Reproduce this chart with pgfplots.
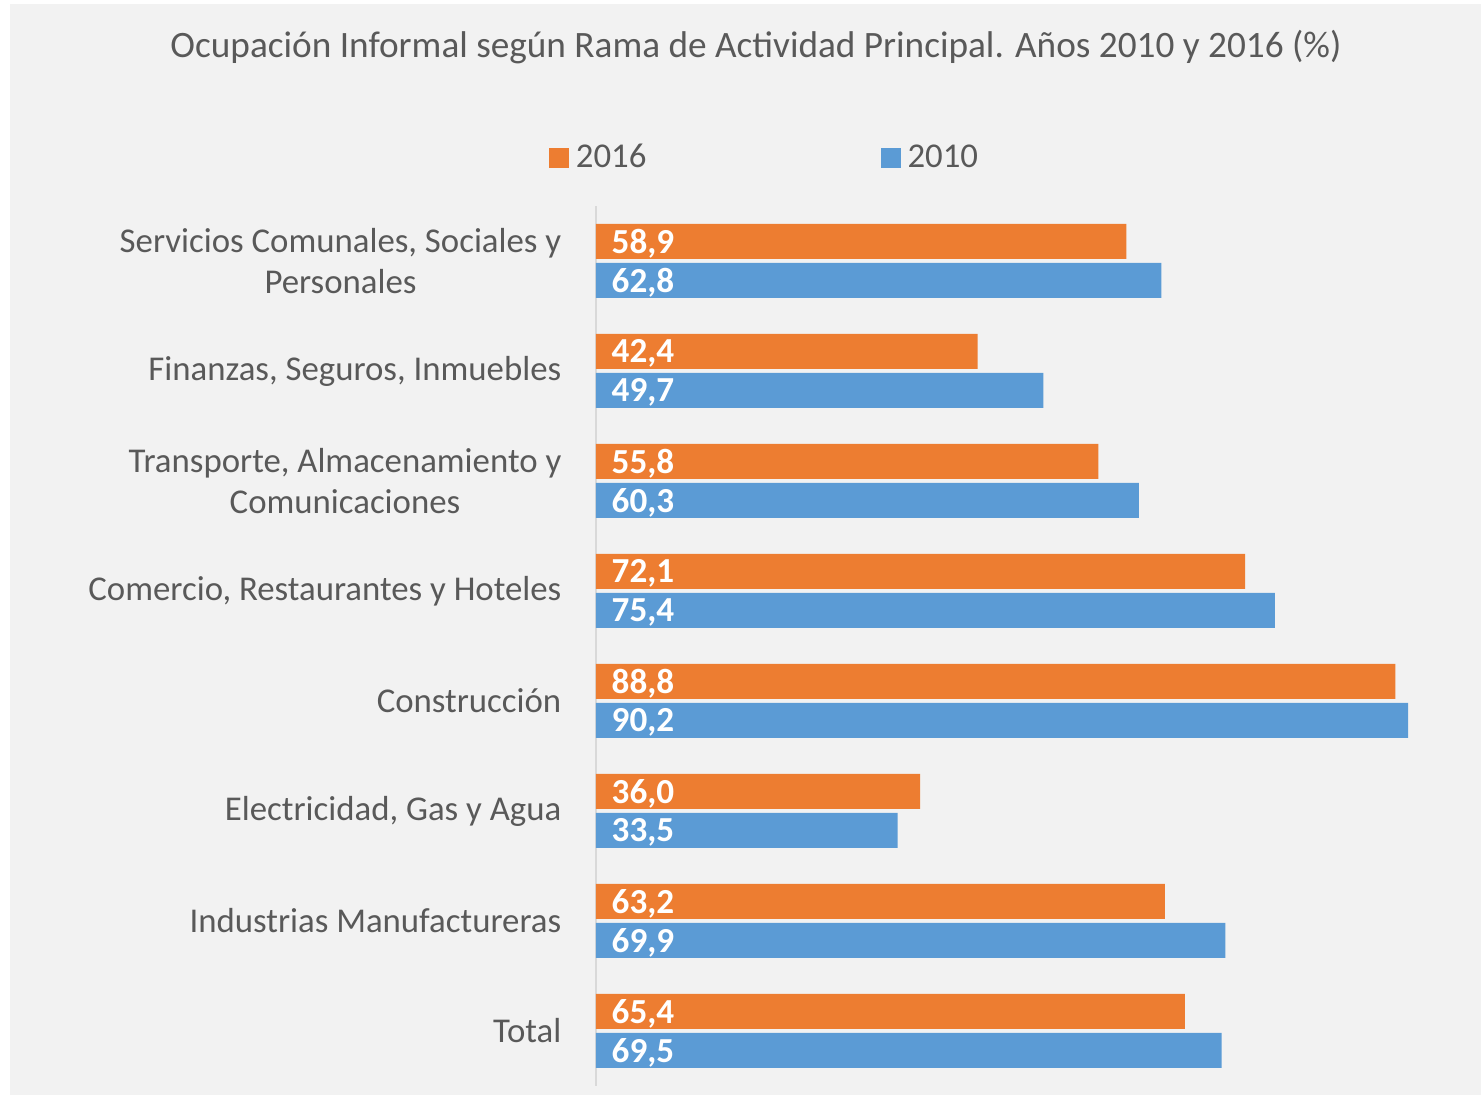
\documentclass[border=0pt]{standalone}
\usepackage{fontspec}
\setmainfont{Carlito}
\usepackage{pgfplots}
\pgfplotsset{compat=1.18}

\definecolor{bg}{HTML}{F2F2F2}
\definecolor{txt}{HTML}{595959}
\definecolor{axl}{HTML}{D9D9D9}
\definecolor{c2016}{HTML}{ED7D31}
\definecolor{c2010}{HTML}{5B9BD5}

\pgfplotstableread{
y v2016 v2010
0 65.4 69.5
1 63.2 69.9
2 36.0 33.5
3 88.8 90.2
4 72.1 75.4
5 55.8 60.3
6 42.4 49.7
7 58.9 62.8
}\datatab

\begin{document}
\begin{tikzpicture}
% page and background (1px = 0.01cm, axis lower left at pixel 596,1086)
\fill[white] (-5.96,-0.09) rectangle (8.85,10.86);
\fill[bg] (-5.86,-0.09) rectangle (8.85,10.82);
\node[text=txt, font=\fontsize{10.6}{12}\selectfont] at (1.60,10.39)
  {Ocupación Informal según Rama de Actividad Principal. Años 2010 y 2016 (\%)};

\begin{axis}[
  at={(0,0)}, anchor=south west,
  x=0.09002cm, y=1.1cm,
  xmin=0, xmax=95, ymin=-0.5, ymax=7.5,
  xbar, bar width=0.35cm,
  hide x axis,
  axis y line*=left,
  y axis line style={axl, line width=0.6pt, -},
  ytick={0,...,7},
  yticklabels={Total, Industrias Manufactureras, {Electricidad, Gas y Agua},
    Construcción, {Comercio, Restaurantes y Hoteles},
    {Transporte, Almacenamiento y\\Comunicaciones},
    {Finanzas, Seguros, Inmuebles},
    {Servicios Comunales, Sociales y\\Personales}},
  major tick length=0pt,
  yticklabel style={text=txt, align=center, inner sep=0pt, anchor=east,
    xshift=-0.34cm, font=\fontsize{9.9}{11.7}\selectfont},
  /pgf/number format/.cd, fixed, fixed zerofill, precision=1, use comma,
    assume math mode=true,
  /pgfplots/.cd,
  visualization depends on={rawx \as \rawx},
  nodes near coords,
  nodes near coords style={text=white, anchor=west, inner sep=0pt,
    font=\bfseries\fontsize{10}{12}\selectfont,
    shift={(axis direction cs:-\rawx,0)}, xshift=0.15cm, yshift=-0.02cm},
  legend columns=2,
  legend style={at={(0.2,1.054)}, anchor=center, draw=none, fill=none,
    text=txt, font=\fontsize{9.9}{12}\selectfont,
    /tikz/every even column/.append style={column sep=2.27cm}},
  legend image code/.code={\fill[#1] (0cm,-0.1cm) rectangle (0.2cm,0.1cm);},
]
\addplot[fill=c2016, draw=none, bar shift=0.195cm] table[x=v2016, y=y] {\datatab};
\addplot[fill=c2010, draw=none, bar shift=-0.195cm] table[x=v2010, y=y] {\datatab};
\legend{2016, 2010}
\end{axis}
\end{tikzpicture}
\end{document}
